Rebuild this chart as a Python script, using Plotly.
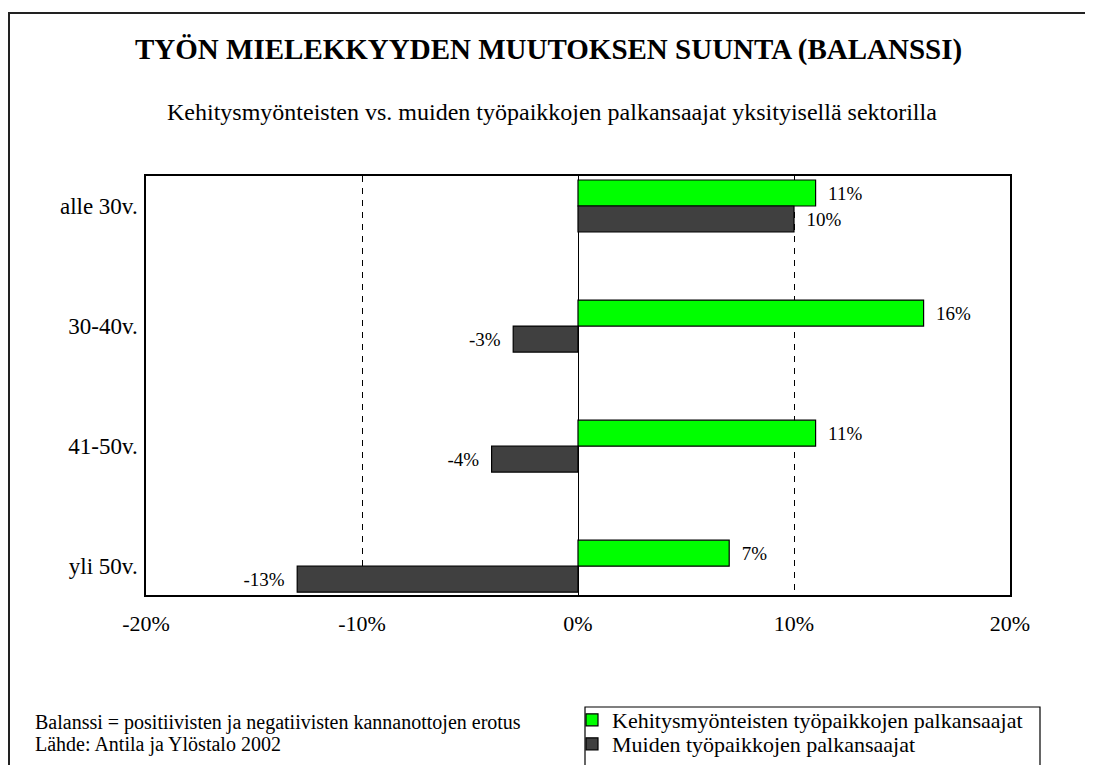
import plotly.graph_objects as go

categories = ["alle 30v.", "30-40v.", "41-50v.", "yli 50v."]
series_names = ["Kehitysmyönteisten työpaikkojen palkansaajat", "Muiden työpaikkojen palkansaajat"]
kehitys = [11, 16, 11, 7]
muut = [10, -3, -4, -13]
x_ticks = [-20, -10, 0, 10, 20]
x_tick_labels = ["-20%", "-10%", "0%", "10%", "20%"]

OFF = 8  # page body margin
W, H = 1093 - OFF, 765 - OFF
L, R, T, B = 146, 1010, 176, 595  # plot area in reference px


def px(x):
    return (x - L) / (R - L)


def py(y):
    return (B - y) / (B - T)


FONT = "Liberation Serif, Times New Roman, serif"
NB = "\u00a0"


def lab(v):
    return f"{NB}{NB}{v}%" if v >= 0 else f"{v}%{NB}{NB}"


fig = go.Figure()
fig.add_trace(go.Bar(
    y=categories, x=kehitys, orientation="h", name=series_names[0],
    marker=dict(color="#00FF00", line=dict(color="black", width=1.2)),
    text=[lab(v) for v in kehitys], textposition="outside",
    textfont=dict(family=FONT, size=19, color="black"), cliponaxis=False,
    legend="legend",
))
fig.add_trace(go.Bar(
    y=categories, x=muut, orientation="h", name=series_names[1],
    marker=dict(color="#404040", line=dict(color="black", width=1.2)),
    text=[lab(v) for v in muut], textposition="outside",
    textfont=dict(family=FONT, size=19, color="black"), cliponaxis=False,
    legend="legend2",
))

leg_common = dict(
    xanchor="left", yanchor="middle",
    bgcolor="rgba(0,0,0,0)", borderwidth=0,
    font=dict(family=FONT, size=22, color="black"),
    itemwidth=30,
)

fig.update_layout(
    width=W, height=H,
    margin=dict(l=L - OFF, r=W - (R - OFF), t=T - OFF, b=H - (B - OFF), autoexpand=False),
    paper_bgcolor="white", plot_bgcolor="white",
    barmode="group", bargap=0.567, bargroupgap=0,
    font=dict(family=FONT, color="black", size=18),
    showlegend=True,
    legend=dict(x=px(572), y=py(720), **leg_common),
    legend2=dict(x=px(572), y=py(744), **leg_common),
    xaxis=dict(
        range=[-20, 20], tickvals=x_ticks, ticktext=x_tick_labels,
        showgrid=True, gridcolor="black", gridwidth=1, griddash="6px,6px",
        zeroline=True, zerolinecolor="black", zerolinewidth=1.2,
        showline=True, linecolor="black", linewidth=1.5, mirror=True,
        ticks="", ticklabelstandoff=8,
        tickfont=dict(family=FONT, size=22, color="black"),
    ),
    yaxis=dict(
        range=[3.24, -0.25], type="category",
        showline=True, linecolor="black", linewidth=1.5, mirror=True,
        showgrid=False, ticks="", ticklabelstandoff=2,
        tickfont=dict(family=FONT, size=23, color="black"),
    ),
    annotations=[
        dict(text="<b>TYÖN MIELEKKYYDEN MUUTOKSEN SUUNTA (BALANSSI)</b>",
             xref="paper", yref="paper", x=px(548), y=py(50),
             xanchor="center", yanchor="middle", showarrow=False,
             font=dict(family=FONT, size=29, color="black")),
        dict(text="Kehitysmyönteisten vs. muiden työpaikkojen palkansaajat yksityisellä sektorilla",
             xref="paper", yref="paper", x=px(552), y=py(112),
             xanchor="center", yanchor="middle", showarrow=False,
             font=dict(family=FONT, size=24, color="black")),
        dict(text="Balanssi = positiivisten ja negatiivisten kannanottojen erotus",
             xref="paper", yref="paper", x=px(33), y=py(722),
             xanchor="left", yanchor="middle", align="left", showarrow=False,
             font=dict(family=FONT, size=20, color="black")),
        dict(text="Lähde: Antila ja Ylöstalo 2002",
             xref="paper", yref="paper", x=px(33), y=py(744),
             xanchor="left", yanchor="middle", align="left", showarrow=False,
             font=dict(family=FONT, size=20, color="black")),
    ],
    shapes=[
        dict(type="rect", xref="paper", yref="paper",
             x0=px(9), x1=px(1110), y0=py(790), y1=py(13),
             line=dict(color="#222222", width=2), layer="below"),
        dict(type="rect", xref="paper", yref="paper",
             x0=px(585), x1=px(1040), y0=py(790), y1=py(707),
             line=dict(color="black", width=1.2), fillcolor="white", layer="below"),
    ],
)

fig.write_html("out.html")
